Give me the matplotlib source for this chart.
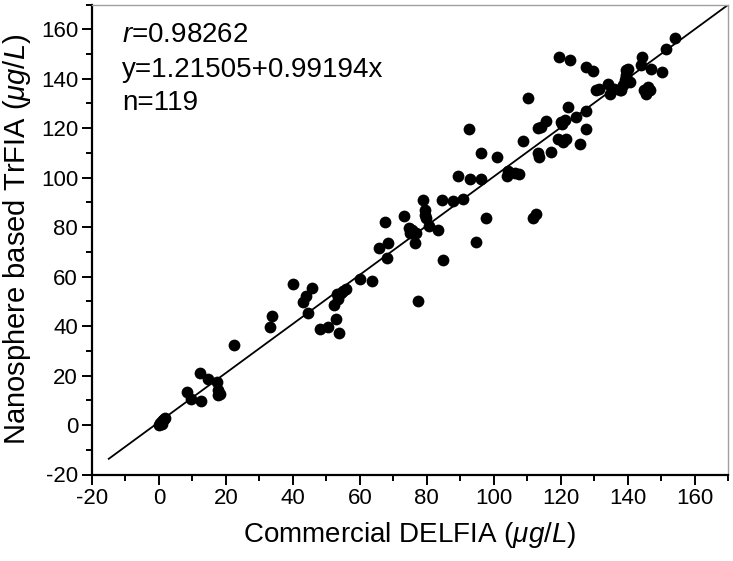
import numpy as np
import matplotlib
matplotlib.use("Agg")
import matplotlib.pyplot as plt
from matplotlib.ticker import MultipleLocator

plt.rcParams['font.family'] = ['Liberation Sans', 'DejaVu Sans']
plt.rcParams['mathtext.fontset'] = 'custom'
plt.rcParams['mathtext.rm'] = 'Liberation Sans'
plt.rcParams['mathtext.it'] = 'Liberation Sans:italic'
plt.rcParams['axes.unicode_minus'] = False

# Commercial DELFIA (x) vs nanosphere based TrFIA (y)
delfia = [0, 0.5, 1, 1.5, 0.8, 1.2, 0.3, 1.8,
          8.5, 9.5, 12.4, 12.6, 14.7, 17.2, 17.7, 18.3, 22.5, 17.5,
          33.1, 33.9, 40.1, 43.1, 43.9, 44.4, 45.6, 48.1, 50.5, 52.3, 52.8, 53.2, 53.7, 55, 56, 53.5, 54.5,
          60, 63.5, 65.7, 67.5, 68, 68.3, 73.2, 74.7, 74.9, 76.4, 76.9, 77.4, 78.9, 79.4, 79.9, 80.7,
          83.4, 84.7, 84.9, 87.7, 89.3, 90.8, 92.6, 93, 94.6, 96.1, 96.3, 97.6, 101, 104, 104.3, 106.3,
          107.6, 75.5, 79.5,
          108.7, 110.2, 111.7, 112.7, 113.2, 113.2, 114.2, 115.5, 117.2, 119.2, 119.5, 120.5, 120.7,
          121.2, 122.2, 122.9, 124.7, 125.7, 127.5, 127.5, 127.5, 129.6, 130.7, 131.6, 134.1, 134.6,
          137.6, 138.1, 138.6, 139.1, 139.6, 139.6, 140.1, 140.6, 144.1, 144.4, 145.6, 146.1, 146.6,
          147.1, 150.4, 151.6, 154.3, 120, 121.5, 136, 139.5, 145, 113.5]
trfia = [0, 0.8, 1.5, 2.5, 0.3, 2.0, 1.0, 2.8,
         13.2, 10.5, 20.9, 9.8, 18.6, 17.2, 12.1, 12.5, 32.3, 14,
         39.5, 44, 57, 49.8, 52.1, 45.4, 55.5, 38.8, 39.5, 48.5, 42.7, 52.9, 37.3, 54, 55, 51, 53.5,
         59, 58.3, 71.4, 81.9, 67.6, 73.7, 84.4, 79.5, 77.5, 73.4, 77.7, 50.2, 90.9, 86.9, 83.5, 80.5,
         78.8, 90.9, 66.7, 90.6, 100.6, 91.2, 119.5, 99.3, 74.1, 99.4, 109.8, 83.5, 108.4, 100.7, 102.7, 101.7,
         101.4, 79, 85,
         114.9, 132.4, 83.5, 85.5, 109.8, 119.9, 120.3, 123, 110.4, 115.8, 148.6, 121.6, 114.5,
         123.2, 128.6, 147.7, 124.6, 113.8, 144.8, 127, 119.5, 143.2, 135.6, 136, 138, 134,
         135.4, 135.4, 137.4, 139.4, 143.4, 141.4, 144.1, 138.7, 145.5, 148.6, 134, 136.7, 135.4,
         144.1, 142.7, 152.2, 156.6, 122.5, 115.5, 136, 140.5, 135.5, 108.5]

intercept = 1.21505
slope = 0.99194
fit_x = np.array([-15, 170])

fig = plt.figure(figsize=(7.33, 5.61), dpi=100)
ax = fig.add_axes([92 / 733, 1 - 474.5 / 561, 636 / 733, 470 / 561])

ax.scatter(delfia, trfia, s=72, color='black', zorder=3, linewidths=0)
ax.plot(fit_x, intercept + slope * fit_x, color='black', lw=1.3, zorder=2)

ax.set_xlim(-20, 170)
ax.set_ylim(-20, 170)
ax.xaxis.set_major_locator(MultipleLocator(20))
ax.xaxis.set_minor_locator(MultipleLocator(10))
ax.yaxis.set_major_locator(MultipleLocator(20))
ax.yaxis.set_minor_locator(MultipleLocator(10))
ax.tick_params(which='major', direction='out', length=7, width=1.4, labelsize=16, pad=3)
ax.tick_params(which='minor', direction='out', length=4, width=1.4)
ax.tick_params(top=False, right=False, which='both')

for side in ['left', 'bottom']:
    ax.spines[side].set_linewidth(1.6)
for side in ['top', 'right']:
    ax.spines[side].set_linewidth(1.0)
    ax.spines[side].set_color('#a0a0a0')

ax.set_xlabel(r'Commercial DELFIA ($\mathit{\mu g/L}$)', fontsize=20, labelpad=8)
ax.set_ylabel(r'Nanosphere based TrFIA ($\mathit{\mu g/L}$)', fontsize=21, labelpad=6)

ax.text(0.047, 0.935, r'$\mathit{r}$=0.98262', transform=ax.transAxes, fontsize=20, va='center')
ax.text(0.047, 0.861, 'y=1.21505+0.99194x', transform=ax.transAxes, fontsize=20, va='center')
ax.text(0.047, 0.790, 'n=119', transform=ax.transAxes, fontsize=20, va='center')

fig.savefig('out.png', dpi=100)
